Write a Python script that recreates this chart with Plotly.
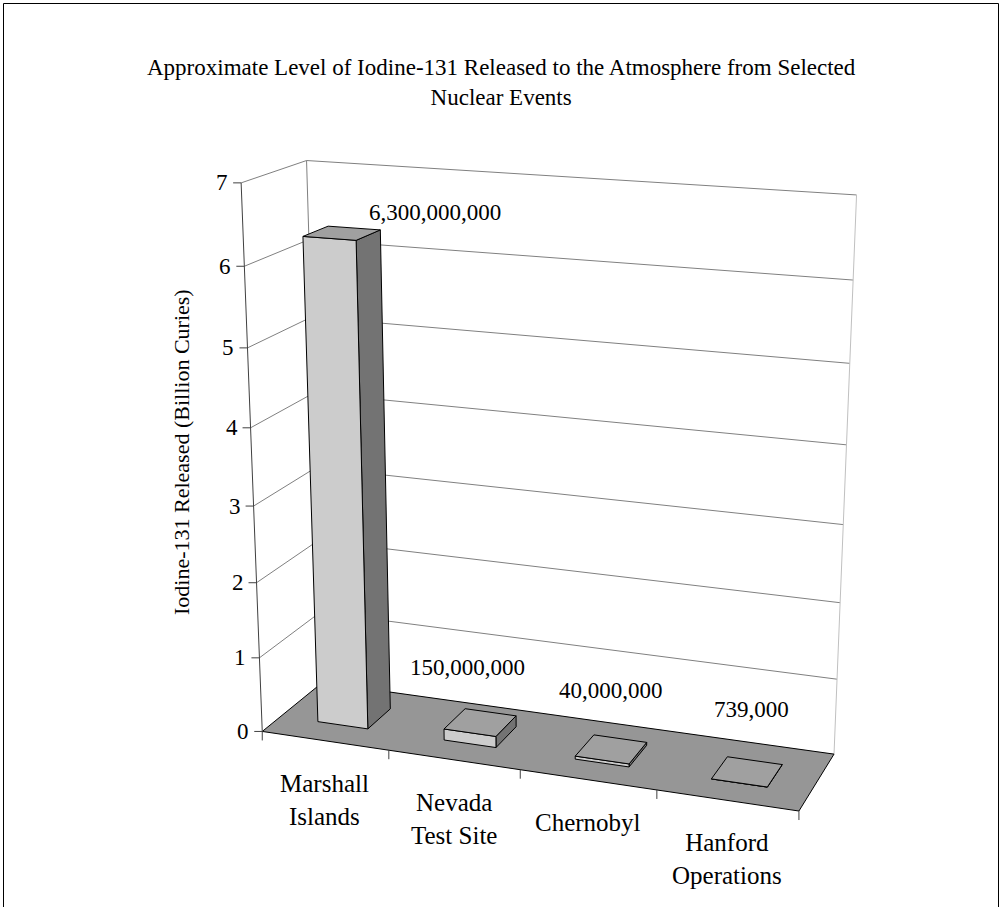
import numpy as np
import plotly.graph_objects as go

# ---------------------------------------------------------------- data
categories = ["Marshall<br>Islands", "Nevada<br>Test Site", "Chernobyl", "Hanford<br>Operations"]
released_curies = [6_300_000_000, 150_000_000, 40_000_000, 739_000]
value_ticks = [0, 1, 2, 3, 4, 5, 6, 7]          # billion curies

TITLE = "Approximate Level of Iodine-131 Released to the Atmosphere from Selected<br>Nuclear Events"
Y_TITLE = "Iodine-131 Released (Billion Curies)"

# ---------------------------------------------------------------- page / view
PAGE_W, PAGE_H = 1003, 907
FONT = "Liberation Serif"

# Plot box in world units: x = category slot (0..n), y = depth (0 front .. 1 back),
# z = value in billions.  Box corners/ticks are pinned to page pixels and a
# perspective camera (3x4 matrix) is solved from them.
FRAME_PINS = [
    ((0, 0, 0), (263.0, 732.0)),
    ((1, 0, 0), (387.7, 750.3)),
    ((2, 0, 0), (519.3, 769.6)),
    ((3, 0, 0), (656.7, 789.7)),
    ((4, 0, 0), (800.0, 810.7)),
    ((0, 0, 1), (260.0, 657.7)),
    ((0, 0, 7), (241.0, 183.0)),
    ((0, 1, 7), (306.7, 160.0)),
    ((4, 1, 7), (856.7, 195.3)),
    ((4, 1, 6), (852.7, 280.0)),
    ((4, 1, 2), (840.0, 603.3)),
    ((4, 1, 1), (838.0, 679.0)),
    ((4, 1, 0), (833.3, 754.0)),
]

BAR_WIDTH = 0.4       # fraction of a category slot
BAR_DEPTH = 0.4       # fraction of the floor depth

COL_FLOOR = "#969696"
COL_FRONT = "#CCCCCC"
COL_TOP = "#A0A0A0"
COL_SIDE = "#737373"
COL_GRID = "#808080"
COL_WALL_EDGE = "#C0C0C0"

# label nudges (pixels) from each bar's top centre
LABEL_NUDGE = [(93, -21), (-13, -55), (0, -59), (4, -62)]


def solve_camera(pins):
    W = np.array([p[0] for p in pins], float)
    S = np.array([p[1] for p in pins], float)
    wm = W.mean(0)
    ws = np.sqrt(3) / np.mean(np.linalg.norm(W - wm, axis=1))
    sm = S.mean(0)
    ss = np.sqrt(2) / np.mean(np.linalg.norm(S - sm, axis=1))
    T = np.eye(4)
    T[:3, :3] *= ws
    T[:3, 3] = -ws * wm
    N = np.eye(3)
    N[:2, :2] *= ss
    N[:2, 2] = -ss * sm
    rows = []
    for w, s in zip(W, S):
        X = T @ np.append(w, 1.0)
        u, v, _ = N @ np.append(s, 1.0)
        rows.append(np.concatenate([X, np.zeros(4), -u * X]))
        rows.append(np.concatenate([np.zeros(4), X, -v * X]))
    _, _, vt = np.linalg.svd(np.array(rows))
    Pn = vt[-1].reshape(3, 4)
    P = np.linalg.inv(N) @ Pn @ T
    return P


P = solve_camera(FRAME_PINS)
_, _, vt_c = np.linalg.svd(P)
CAM = vt_c[-1] / vt_c[-1][3]          # camera centre in world units


def proj(x, y, z):
    h = P @ np.array([x, y, z, 1.0])
    return h[0] / h[2], h[1] / h[2]


def seg_trace(segs, color, width):
    xs, ys = [], []
    for a, b in segs:
        pa, pb = proj(*a), proj(*b)
        xs += [pa[0], pb[0], None]
        ys += [pa[1], pb[1], None]
    return go.Scatter(x=xs, y=ys, mode="lines", line=dict(color=color, width=width),
                      hoverinfo="skip", showlegend=False)


def px_seg_trace(segs, color, width):
    xs, ys = [], []
    for (x0, y0), (x1, y1) in segs:
        xs += [x0, x1, None]
        ys += [y0, y1, None]
    return go.Scatter(x=xs, y=ys, mode="lines", line=dict(color=color, width=width),
                      hoverinfo="skip", showlegend=False)


def face_trace(corners, fill, edge="black", width=1):
    pts = [proj(*c) for c in corners]
    xs = [p[0] for p in pts] + [pts[0][0]]
    ys = [p[1] for p in pts] + [pts[0][1]]
    return go.Scatter(x=xs, y=ys, mode="lines", fill="toself", fillcolor=fill,
                      line=dict(color=edge, width=width), hoverinfo="skip", showlegend=False)


n = len(categories)
zmax = value_ticks[-1]
values_bn = [v / 1e9 for v in released_curies]

fig = go.Figure()

# walls: gridlines on side wall and back wall
grid = []
for z in value_ticks[1:]:
    grid.append(((0, 0, z), (0, 1, z)))
    grid.append(((0, 1, z), (n, 1, z)))
grid.append(((0, 1, 0), (0, 1, zmax)))
fig.add_trace(seg_trace(grid, COL_GRID, 1))
fig.add_trace(seg_trace([((n, 1, 0), (n, 1, zmax))], COL_WALL_EDGE, 1))

# floor
fig.add_trace(face_trace([(0, 0, 0), (n, 0, 0), (n, 1, 0), (0, 1, 0)], COL_FLOOR, "black", 1))

# value axis line and ticks
fig.add_trace(seg_trace([((0, 0, 0), (0, 0, zmax))], "#404040", 1))
vticks = []
for z in value_ticks:
    u, v = proj(0, 0, z)
    vticks.append(((u - 8, v), (u, v)))
fig.add_trace(px_seg_trace(vticks, "#404040", 1))

# category ticks along the front edge of the floor
cticks = []
for k in range(n + 1):
    u, v = proj(k, 0, 0)
    cticks.append(((u, v), (u, v + 9)))
fig.add_trace(px_seg_trace(cticks, "#404040", 1))

# bars
for i, h in enumerate(values_bn):
    x0, x1 = i + 0.5 - BAR_WIDTH / 2, i + 0.5 + BAR_WIDTH / 2
    y0, y1 = 0.5 - BAR_DEPTH / 2, 0.5 + BAR_DEPTH / 2
    if CAM[0] < x0:
        fig.add_trace(face_trace([(x0, y0, 0), (x0, y1, 0), (x0, y1, h), (x0, y0, h)], COL_SIDE))
    if CAM[0] > x1:
        fig.add_trace(face_trace([(x1, y0, 0), (x1, y1, 0), (x1, y1, h), (x1, y0, h)], COL_SIDE))
    if CAM[1] < y0:
        fig.add_trace(face_trace([(x0, y0, 0), (x1, y0, 0), (x1, y0, h), (x0, y0, h)], COL_FRONT))
    if CAM[2] > h:
        fig.add_trace(face_trace([(x0, y0, h), (x1, y0, h), (x1, y1, h), (x0, y1, h)], COL_TOP))

annotations = []
# value labels
for i, v in enumerate(released_curies):
    u, w = proj(i + 0.5, 0.5, values_bn[i])
    dx, dy = LABEL_NUDGE[i]
    annotations.append(dict(x=u + dx, y=w + dy, text=f"{v:,}", showarrow=False,
                            xanchor="center", yanchor="middle",
                            font=dict(family=FONT, size=23, color="black")))
# value tick labels
for z in value_ticks:
    u, v = proj(0, 0, z)
    annotations.append(dict(x=u - 11, y=v, text=str(z), showarrow=False,
                            xanchor="right", yanchor="middle",
                            font=dict(family=FONT, size=23, color="black")))
# category labels
for k, name in enumerate(categories):
    u, v = proj(k + 0.5, 0, 0)
    annotations.append(dict(x=u, y=v + 27, text=name, showarrow=False,
                            xanchor="center", yanchor="top",
                            font=dict(family=FONT, size=25, color="black")))
# axis title and chart title
annotations.append(dict(x=181, y=452, text=Y_TITLE, textangle=-90, showarrow=False,
                        xanchor="center", yanchor="middle",
                        font=dict(family=FONT, size=22, color="black")))
annotations.append(dict(x=501, y=82, text=TITLE, showarrow=False,
                        xanchor="center", yanchor="middle",
                        font=dict(family=FONT, size=23, color="black")))

fig.update_layout(
    width=PAGE_W, height=PAGE_H,
    margin=dict(l=0, r=0, t=0, b=0, pad=0),
    paper_bgcolor="white", plot_bgcolor="white",
    xaxis=dict(range=[0, PAGE_W], visible=False, fixedrange=True),
    yaxis=dict(range=[PAGE_H, 0], visible=False, fixedrange=True),
    annotations=annotations,
    shapes=[dict(type="rect", xref="x", yref="y", x0=3.5, y0=3.5, x1=998.5, y1=PAGE_H + 20,
                 line=dict(color="black", width=1), fillcolor="rgba(0,0,0,0)")],
    showlegend=False,
)

fig.write_html("out.html")
